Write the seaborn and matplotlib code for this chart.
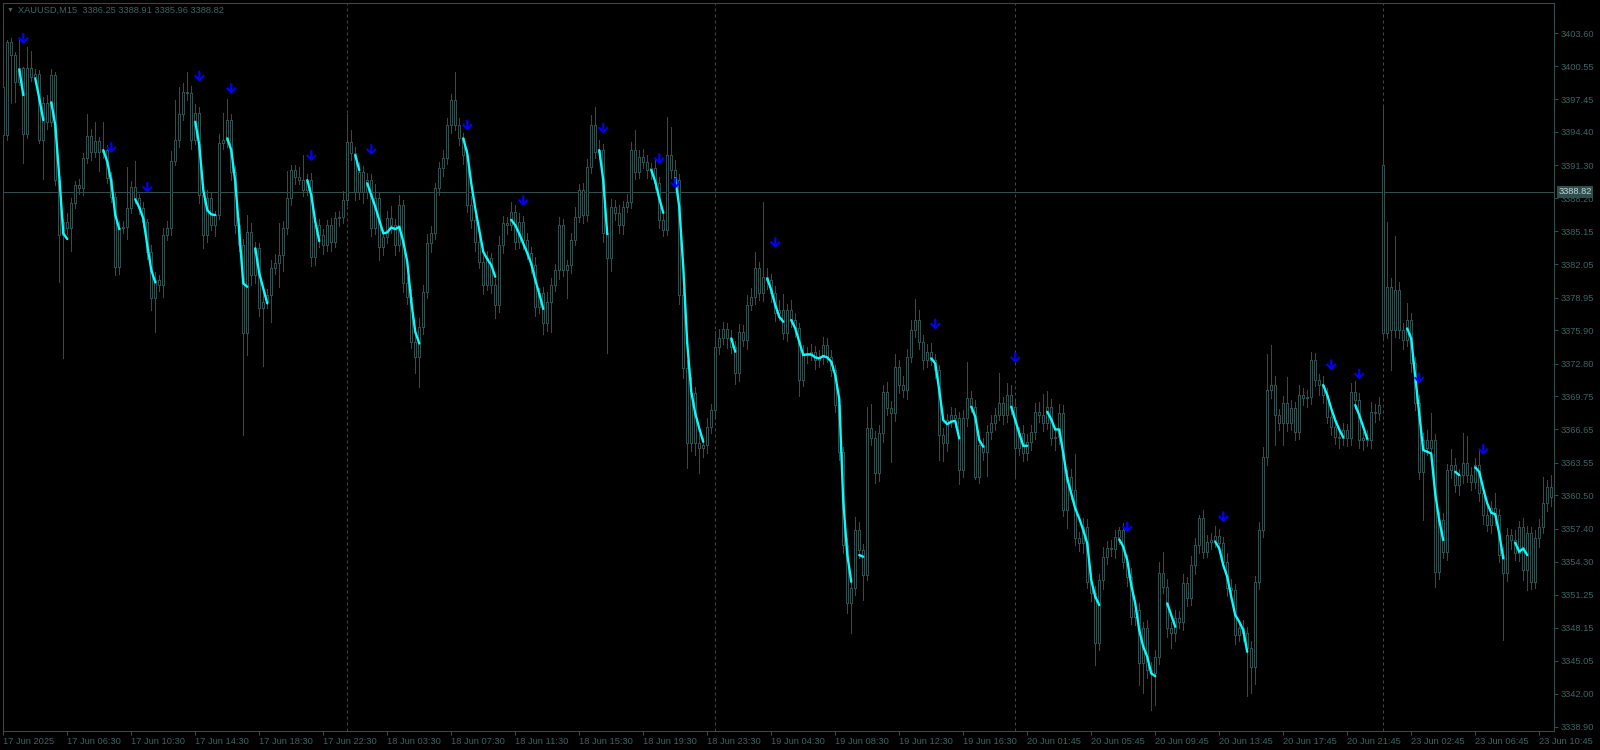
import numpy as np
import pandas as pd
import matplotlib
matplotlib.use("Agg")
import matplotlib.pyplot as plt
import matplotlib.transforms as mtransforms
from matplotlib.path import Path
import seaborn as sns

# --- Datos (XAUUSD M15, 17-23 Jun 2025) ---
symbol = "XAUUSD,M15"
last_ohlc = [3386.25, 3388.91, 3385.96, 3388.82]

close_prices = [
    3394.11, 3402.82, 3401.57, 3399.02, 3400.33, 3394.17, 3400.33, 3399.55, 3399.77, 3393.64, 3397.06, 3395.35, 3399.71, 3389.91, 3384.78, 3386.02,
    3385.46, 3387.73, 3389.44, 3389.13, 3391.93, 3394.02, 3392.55, 3393.55, 3392.55, 3392.71, 3390.07, 3388.36, 3381.83, 3385.40, 3385.56, 3387.33,
    3389.23, 3388.20, 3387.33, 3386.02, 3383.23, 3378.87, 3380.58, 3380.12, 3384.78, 3385.46, 3391.68, 3393.64, 3396.04, 3398.15, 3398.00, 3393.64,
    3396.13, 3388.51, 3384.78, 3388.20, 3385.71, 3386.65, 3393.33, 3393.64, 3395.51, 3390.69, 3385.71, 3383.85, 3375.61, 3385.09, 3381.05, 3383.54,
    3377.94, 3378.56, 3379.18, 3381.67, 3382.14, 3382.91, 3385.40, 3388.20, 3390.84, 3390.22, 3389.91, 3388.98, 3389.91, 3382.76, 3385.71, 3384.78,
    3383.85, 3385.71, 3384.16, 3386.34, 3386.49, 3388.05, 3393.49, 3392.40, 3388.82, 3390.69, 3388.82, 3389.91, 3385.40, 3388.20, 3383.69, 3384.63,
    3386.34, 3385.71, 3383.85, 3387.58, 3380.27, 3379.03, 3374.83, 3373.43, 3376.23, 3379.49, 3384.00, 3384.94, 3389.13, 3391.00, 3391.93, 3395.04,
    3397.37, 3395.04, 3393.80, 3392.24, 3387.58, 3386.18, 3384.16, 3382.29, 3380.12, 3382.60, 3380.12, 3378.25, 3383.85, 3385.87, 3385.71, 3386.96,
    3384.16, 3386.02, 3384.31, 3383.07, 3381.98, 3378.10, 3379.34, 3376.54, 3378.56, 3380.12, 3381.52, 3385.71, 3381.52, 3381.98, 3384.31, 3386.49,
    3388.98, 3386.65, 3391.09, 3395.04, 3392.55, 3392.71, 3384.94, 3382.60, 3387.42, 3386.80, 3385.71, 3387.42, 3387.89, 3392.71, 3390.69, 3392.09,
    3391.62, 3390.84, 3391.00, 3389.60, 3386.18, 3385.25, 3392.24, 3390.84, 3389.91, 3379.18, 3372.34, 3365.35, 3370.01, 3365.35, 3364.88, 3365.19,
    3366.90, 3368.46, 3374.36, 3375.14, 3375.98, 3375.14, 3374.36, 3371.88, 3375.76, 3374.99, 3378.25, 3379.03, 3381.67, 3379.34, 3380.89, 3380.58,
    3379.34, 3377.47, 3377.79, 3375.61, 3377.79, 3376.85, 3376.08, 3371.26, 3373.74, 3373.59, 3373.90, 3373.12, 3373.43, 3374.52, 3373.43, 3372.19,
    3368.92, 3364.57, 3355.86, 3350.42, 3351.82, 3357.26, 3355.40, 3353.07, 3366.75, 3365.81, 3362.55, 3366.28, 3370.17, 3368.61, 3368.15, 3372.50,
    3370.79, 3370.32, 3373.43, 3375.92, 3376.85, 3374.83, 3373.12, 3373.90, 3373.12, 3372.19, 3366.13, 3365.35, 3367.52, 3367.99, 3367.68, 3362.86,
    3367.68, 3369.55, 3368.77, 3362.24, 3365.19, 3364.57, 3366.44, 3367.21, 3367.99, 3369.08, 3367.99, 3369.86, 3368.77, 3364.88, 3366.28, 3364.42,
    3365.50, 3366.44, 3368.30, 3367.99, 3367.21, 3368.77, 3365.81, 3365.97, 3368.15, 3359.13, 3362.24, 3361.00, 3356.49, 3356.02, 3357.57, 3352.44,
    3351.36, 3346.69, 3352.60, 3354.78, 3355.55, 3355.46, 3356.64, 3357.26, 3354.31, 3352.91, 3349.18, 3349.80, 3344.83, 3348.09, 3344.21, 3343.89,
    3345.45, 3353.22, 3351.98, 3348.09, 3347.62, 3349.02, 3348.71, 3352.29, 3350.89, 3354.00, 3355.86, 3358.35, 3355.24, 3356.18, 3356.33, 3356.70,
    3356.02, 3354.31, 3351.82, 3351.67, 3347.47, 3348.09, 3347.62, 3346.23, 3344.52, 3352.44, 3357.26, 3364.10, 3370.32, 3370.79, 3367.99, 3367.21,
    3369.08, 3367.21, 3368.61, 3366.44, 3369.86, 3369.54, 3369.70, 3373.12, 3371.26, 3370.79, 3369.86, 3367.83, 3366.90, 3365.97, 3365.81, 3366.59,
    3365.81, 3370.17, 3369.39, 3365.66, 3365.81, 3365.66, 3368.30, 3368.15, 3368.92, 3375.61, 3379.96, 3375.92, 3379.65, 3375.92, 3374.99, 3376.85,
    3372.81, 3369.08, 3362.70, 3365.66, 3364.88, 3365.66, 3353.38, 3358.19, 3355.24, 3362.86, 3363.33, 3361.46, 3362.39, 3363.48, 3362.39, 3361.77,
    3363.33, 3360.68, 3358.66, 3357.73, 3359.28, 3358.66, 3354.93, 3353.22, 3356.80, 3356.33, 3355.09, 3357.57, 3353.53, 3356.95, 3352.45, 3356.49,
    3357.57, 3359.75, 3361.31, 3360.37,
]

# aperturas que no coinciden con el cierre anterior (primera vela y hueco del lunes)
gap_opens = {0: 3398.60, 345: 3391.31}

# mechas por encima / por debajo del cuerpo
wick_up = [
    1.4, 0.2, 0.3, 0.3, 2.7, 0.1, 2.0, 1.6, 0.5, 0.4, 0.6, 0.8, 0.6, 0.3, 0.5, 0.3,
    0.8, 0.5, 0.4, 0.6, 0.5, 2.1, 0.7, 1.8, 0.4, 2.6, 0.5, 0.6, 0.4, 0.7, 0.5, 3.8,
    0.6, 2.5, 0.4, 0.5, 0.3, 0.6, 0.8, 0.5, 0.7, 0.6, 0.9, 3.7, 2.6, 0.8, 1.8, 0.7,
    0.9, 0.6, 0.5, 0.8, 0.6, 0.4, 0.9, 2.5, 2.0, 0.6, 0.5, 0.7, 0.6, 1.6, 0.8, 0.6,
    0.5, 1.2, 0.6, 0.8, 0.9, 3.0, 0.7, 2.6, 0.5, 0.5, 0.9, 2.3, 0.6, 0.7, 0.8, 0.6,
    0.6, 0.5, 0.7, 0.6, 0.5, 0.8, 2.6, 1.1, 0.6, 0.9, 0.5, 0.7, 0.6, 1.3, 0.5, 0.6,
    0.7, 1.2, 0.6, 0.9, 0.5, 0.6, 0.7, 0.5, 0.8, 0.6, 0.9, 0.7, 0.5, 0.6, 0.8, 0.7,
    0.6, 2.6, 0.7, 0.5, 0.6, 0.8, 0.5, 0.9, 0.6, 0.7, 0.5, 0.6, 0.8, 0.7, 0.6, 0.9,
    0.6, 0.8, 0.5, 0.7, 0.6, 0.8, 0.5, 0.6, 0.9, 0.7, 0.6, 0.8, 0.6, 0.5, 0.7, 0.9,
    0.6, 0.7, 0.8, 0.9, 1.7, 0.9, 0.6, 0.5, 0.7, 0.6, 0.8, 0.5, 0.7, 0.8, 1.9, 0.6,
    0.7, 0.6, 0.5, 0.8, 0.6, 0.7, 3.6, 2.6, 0.9, 0.6, 0.7, 0.8, 1.5, 0.6, 0.9, 0.7,
    0.8, 0.6, 1.5, 0.9, 0.7, 0.6, 0.8, 0.5, 0.7, 0.6, 0.9, 0.8, 1.5, 0.6, 7.0, 0.8,
    0.6, 0.7, 0.9, 1.5, 0.6, 0.9, 0.7, 0.5, 0.8, 0.6, 0.7, 0.5, 0.6, 0.8, 0.7, 0.6,
    0.5, 0.6, 0.4, 0.7, 0.9, 1.2, 0.8, 0.6, 2.0, 2.3, 0.7, 0.8, 0.6, 0.9, 0.7, 1.2,
    0.6, 0.8, 0.7, 0.9, 2.0, 0.9, 0.6, 0.7, 0.8, 0.6, 0.5, 0.7, 0.6, 0.8, 0.7, 0.6,
    0.8, 3.4, 0.7, 0.6, 0.9, 0.7, 0.6, 0.8, 0.7, 2.8, 0.6, 1.1, 0.9, 0.7, 0.6, 0.8,
    0.7, 0.6, 0.8, 0.9, 2.0, 1.5, 0.7, 0.6, 0.9, 0.8, 0.6, 0.7, 3.4, 0.6, 0.8, 0.7,
    0.8, 0.7, 0.6, 0.9, 0.7, 0.8, 0.6, 0.3, 0.7, 0.6, 0.8, 0.9, 0.7, 0.6, 0.8, 0.7,
    0.6, 1.1, 2.0, 0.7, 0.6, 0.8, 0.7, 0.9, 0.6, 0.8, 0.7, 0.3, 0.8, 0.6, 0.7, 0.9,
    0.7, 0.6, 0.8, 0.9, 0.6, 0.7, 0.8, 0.6, 0.7, 0.5, 0.8, 0.9, 3.4, 3.7, 0.8, 0.6,
    0.7, 2.5, 0.8, 0.6, 0.9, 0.7, 0.6, 0.8, 0.7, 0.6, 0.8, 0.7, 0.6, 0.5, 0.8, 0.7,
    0.6, 0.8, 1.0, 0.7, 0.6, 0.8, 0.9, 0.7, 0.8, 5.4, 6.0, 0.8, 5.0, 0.8, 0.7, 1.6,
    0.7, 0.6, 0.8, 0.7, 0.9, 2.5, 0.6, 0.8, 0.7, 0.6, 1.5, 0.7, 0.6, 2.8, 2.6, 0.8,
    0.7, 1.4, 0.6, 0.8, 0.7, 1.4, 0.6, 0.8, 0.7, 0.6, 0.9, 0.5, 0.8, 0.7, 0.6, 0.8,
    0.7, 2.5, 0.6, 1.1,
]
wick_down = [
    0.5, 0.5, 4.5, 1.8, 0.2, 2.7, 0.3, 0.4, 0.6, 0.3, 3.6, 0.7, 0.4, 0.5, 4.4, 11.5,
    0.6, 2.2, 0.4, 0.5, 0.6, 0.4, 0.8, 0.5, 1.8, 0.6, 0.4, 0.5, 0.8, 0.7, 0.4, 1.1,
    0.5, 0.4, 0.6, 0.5, 0.7, 1.1, 3.1, 0.6, 1.1, 0.5, 0.7, 0.4, 0.6, 0.5, 0.6, 0.8,
    0.4, 0.7, 1.2, 0.6, 0.5, 1.0, 0.4, 0.5, 0.6, 0.8, 0.7, 0.6, 9.5, 2.0, 0.9, 0.7,
    0.7, 5.4, 0.6, 2.5, 0.5, 2.2, 1.5, 0.5, 0.6, 0.7, 0.4, 0.6, 0.5, 0.9, 0.8, 1.1,
    0.8, 0.6, 0.9, 0.5, 0.7, 0.6, 0.5, 0.6, 0.8, 0.7, 1.0, 0.6, 0.7, 0.5, 1.2, 0.8,
    0.6, 0.7, 0.9, 0.6, 0.8, 0.7, 0.6, 1.5, 2.8, 0.7, 0.6, 0.8, 0.5, 0.6, 0.7, 0.5,
    0.7, 0.5, 0.6, 0.8, 0.6, 0.7, 0.9, 0.6, 0.8, 0.5, 0.7, 1.2, 0.6, 0.7, 0.8, 0.5,
    0.7, 0.6, 0.8, 0.5, 0.7, 0.9, 0.6, 1.0, 0.7, 2.8, 0.6, 0.8, 0.6, 2.6, 0.7, 0.5,
    0.5, 0.7, 0.6, 0.5, 0.6, 0.7, 0.8, 8.8, 1.2, 0.6, 0.7, 0.8, 0.5, 0.6, 0.7, 0.6,
    0.6, 0.7, 0.8, 0.5, 0.7, 0.6, 0.5, 0.7, 0.6, 0.8, 0.9, 2.3, 0.7, 1.1, 2.3, 0.8,
    0.7, 0.6, 0.8, 0.7, 0.5, 0.9, 0.6, 1.0, 0.7, 0.6, 0.8, 0.5, 0.7, 0.6, 0.7, 0.8,
    0.8, 0.7, 0.6, 0.5, 0.7, 0.6, 0.8, 1.5, 0.6, 0.7, 0.5, 0.8, 0.6, 0.7, 0.5, 0.6,
    0.6, 0.8, 0.7, 0.9, 2.8, 0.6, 0.7, 2.3, 0.5, 0.6, 0.9, 0.7, 0.8, 0.6, 4.5, 0.7,
    0.7, 0.6, 0.8, 0.5, 0.6, 0.7, 0.8, 0.6, 0.5, 0.7, 2.3, 1.6, 0.7, 0.6, 0.8, 1.3,
    0.6, 0.7, 0.5, 0.2, 0.6, 0.8, 2.3, 0.7, 0.6, 0.5, 0.8, 0.6, 0.7, 2.8, 0.6, 0.7,
    0.6, 0.8, 0.7, 0.6, 0.7, 0.5, 0.6, 1.1, 0.7, 0.6, 1.7, 0.8, 0.6, 0.7, 0.9, 0.6,
    0.7, 2.0, 0.6, 0.8, 0.7, 0.6, 0.8, 0.7, 0.6, 0.9, 0.7, 0.8, 2.0, 2.8, 0.7, 3.4,
    2.9, 0.7, 0.6, 0.8, 1.4, 0.7, 0.6, 0.8, 0.7, 0.6, 0.8, 0.7, 0.6, 0.5, 0.7, 0.6,
    0.8, 0.6, 0.7, 0.9, 0.8, 0.6, 0.7, 4.4, 2.5, 1.6, 0.7, 0.6, 0.8, 0.7, 2.8, 0.6,
    2.0, 0.7, 0.6, 0.8, 0.7, 0.6, 0.8, 0.7, 0.6, 0.9, 0.7, 0.6, 0.8, 0.7, 0.9, 0.6,
    0.7, 0.6, 0.8, 0.7, 0.9, 0.6, 0.7, 0.8, 0.6, 0.5, 0.4, 3.7, 0.6, 0.7, 0.8, 0.6,
    0.8, 0.6, 0.7, 4.5, 0.6, 0.8, 1.4, 0.7, 0.6, 0.8, 0.7, 0.6, 0.9, 0.7, 0.6, 0.8,
    0.6, 0.7, 0.8, 0.6, 0.7, 0.9, 0.6, 6.2, 0.7, 0.8, 0.6, 0.7, 0.9, 1.9, 0.7, 0.6,
    0.8, 0.6, 0.7, 0.9,
]

# --- Indicador: tramos de la línea cian (barra inicial + valores) ---
signal_start = [4, 8, 12, 25, 33, 48, 56, 63, 76, 88, 91, 115, 127, 149, 162, 168, 182,
                191, 197, 214, 232, 242, 252, 261, 279, 291, 303, 330, 338, 351, 363, 368, 378]
signal_values = [
    [3400.23, 3397.84],
    [3399.39, 3397.53, 3395.51],
    [3397.16, 3395.04, 3390.22, 3384.94, 3384.41],
    [3392.71, 3391.62, 3389.76, 3386.65, 3385.34],
    [3388.11, 3387.36, 3386.34, 3383.85, 3381.52, 3380.37],
    [3395.35, 3393.18, 3388.98, 3387.11, 3386.71, 3386.65],
    [3393.80, 3392.71, 3389.76, 3385.09, 3380.27, 3379.96],
    [3383.54, 3381.20, 3379.81, 3378.41],
    [3389.91, 3388.51, 3386.02, 3384.22],
    [3392.24, 3390.84],
    [3389.60, 3388.51, 3387.42, 3386.18, 3384.94, 3385.03, 3385.50, 3385.34, 3385.56, 3384.16,
     3382.29, 3378.56, 3375.76, 3374.67],
    [3393.80, 3392.40, 3389.60, 3387.27, 3385.25, 3383.23, 3382.54, 3381.98, 3380.89],
    [3386.20, 3385.70, 3384.90, 3384.00, 3383.10, 3382.10, 3380.60, 3379.30, 3377.90],
    [3392.71, 3389.91, 3384.87],
    [3390.84, 3389.76, 3388.20, 3386.86],
    [3390.07, 3387.42, 3381.83, 3374.68, 3370.17, 3368.15, 3366.75, 3365.50],
    [3375.14, 3373.90],
    [3380.74, 3379.65, 3378.25, 3377.16, 3376.70],
    [3376.85, 3376.08, 3374.83, 3373.59, 3373.65, 3373.65, 3373.37, 3373.28, 3373.50, 3373.37,
     3372.97, 3371.72, 3369.50, 3360.00, 3355.00, 3352.44],
    [3354.93, 3354.78],
    [3373.28, 3372.81, 3370.32, 3367.52, 3367.15, 3367.37, 3367.46, 3365.81],
    [3368.77, 3367.84, 3365.66, 3365.04],
    [3368.77, 3367.52, 3366.28, 3365.13, 3365.13],
    [3368.30, 3367.59, 3366.65, 3366.65, 3364.42, 3362.08, 3360.68, 3359.28, 3358.35, 3357.26,
     3356.02, 3352.60, 3351.05, 3350.27],
    [3356.39, 3355.71, 3354.47, 3352.13, 3350.42, 3347.93, 3346.38, 3345.45, 3343.89, 3343.64],
    [3350.42, 3349.33, 3348.25],
    [3356.18, 3355.55, 3354.00, 3352.91, 3351.05, 3349.33, 3348.71, 3347.93, 3345.91],
    [3370.79, 3369.86, 3368.61, 3367.52, 3366.65, 3365.91],
    [3368.92, 3367.99, 3366.90, 3365.78],
    [3376.07, 3375.14, 3371.57, 3368.15, 3364.73, 3364.57, 3364.41, 3360.68, 3358.19, 3356.33],
    [3362.70, 3362.39],
    [3363.11, 3362.70, 3361.15, 3359.75, 3358.88, 3358.75, 3356.95, 3354.62],
    [3356.08, 3355.24, 3355.55, 3354.93],
]

# flechas de venta (barra, precio)
arrow_bars = [5, 27, 36, 49, 57, 77, 92, 116, 130, 150, 164, 168, 193, 233, 253, 281, 305, 332, 339, 354, 370]
arrow_prices = [3403.12, 3392.94, 3389.23, 3399.60, 3398.46, 3392.18, 3392.75, 3395.04, 3388.00, 3394.75,
                3391.90, 3389.61, 3384.09, 3376.48, 3373.34, 3357.55, 3358.50, 3372.68, 3371.82, 3371.44, 3364.78]

# ejes
price_ticks = [3403.60, 3400.55, 3397.45, 3394.40, 3391.30, 3388.20, 3385.15, 3382.05, 3378.95, 3375.90, 3372.80,
               3369.75, 3366.65, 3363.55, 3360.50, 3357.40, 3354.30, 3351.25, 3348.15, 3345.05, 3342.00, 3338.90]
time_labels = ["17 Jun 2025", "17 Jun 06:30", "17 Jun 10:30", "17 Jun 14:30", "17 Jun 18:30", "17 Jun 22:30",
               "18 Jun 03:30", "18 Jun 07:30", "18 Jun 11:30", "18 Jun 15:30", "18 Jun 19:30", "18 Jun 23:30",
               "19 Jun 04:30", "19 Jun 08:30", "19 Jun 12:30", "19 Jun 16:30", "20 Jun 01:45", "20 Jun 05:45",
               "20 Jun 09:45", "20 Jun 13:45", "20 Jun 17:45", "20 Jun 21:45", "23 Jun 02:45", "23 Jun 06:45",
               "23 Jun 10:45"]
bars_per_label = 16
day_breaks = [86, 178, 253, 345]

# --- Preparación ---
n = min(len(close_prices), len(wick_up), len(wick_down))
closes = np.array(close_prices[:n])
opens = np.r_[np.nan, closes[:-1]]
for k, v in gap_opens.items():
    opens[k] = v
body_top = np.maximum(opens, closes)
body_bot = np.minimum(opens, closes)
highs = body_top + np.array(wick_up[:n])
lows = body_bot - np.array(wick_down[:n])
bars = np.arange(n)

rows = []
for seg, (start, vals) in enumerate(zip(signal_start, signal_values)):
    for j, v in enumerate(vals):
        rows.append({"bar": start + j, "price": v, "seg": seg})
signal_df = pd.DataFrame(rows)

# --- Estilo ---
FG = "#2f4f4f"
TXT = "#3f6464"
sns.set_theme(style="dark", rc={"axes.facecolor": "black", "figure.facecolor": "black",
                                "axes.grid": False})
plt.rcParams["font.family"] = ["Liberation Sans", "DejaVu Sans"]
FS = 6.7

fig = plt.figure(figsize=(16, 7.5), dpi=100)
ax = fig.add_axes([3 / 1600, 19 / 750, 1551 / 1600, 728 / 750])
ax.set_facecolor("black")

# separadores de día y línea bid
for b in day_breaks:
    ax.axvline(b, color=FG, lw=0.72, ls=(0, (3, 3)), zorder=1)
ax.axhline(last_ohlc[3], color=FG, lw=0.72, zorder=1, antialiased=False)

# velas (huecas)
ax.vlines(bars, lows, highs, colors=FG, lw=0.72, zorder=2, antialiased=False)
ax.bar(bars, np.maximum(body_top - body_bot, 0.03), bottom=body_bot, width=0.5,
       facecolor="black", edgecolor=FG, linewidth=0.72, zorder=3, antialiased=False)

# línea de señal
sns.lineplot(data=signal_df, x="bar", y="price", units="seg", estimator=None, sort=False,
             color="#00ffff", linewidth=1.7, legend=False, ax=ax, zorder=4)

# flechas
arrow_path = Path([(-0.1, 0.5), (0.1, 0.5), (0.1, -0.12), (0.36, 0.14), (0.5, 0.02), (0.0, -0.5),
                   (-0.5, 0.02), (-0.36, 0.14), (-0.1, -0.12), (-0.1, 0.5)],
                  [Path.MOVETO] + [Path.LINETO] * 8 + [Path.CLOSEPOLY])
sns.scatterplot(x=arrow_bars, y=arrow_prices, marker=arrow_path, s=60, color="#0000ff",
                edgecolor="none", linewidth=0, legend=False, ax=ax, zorder=5)

# --- Ejes ---
ax.set_xlim(-0.07, 387.7)
ax.set_ylim(3338.52, 3406.43)
ax.set_xlabel("")
ax.set_ylabel("")
for sp in ax.spines.values():
    sp.set_color(FG)
    sp.set_linewidth(0.72)
    sp.set_visible(True)

ax.yaxis.tick_right()
ax.set_yticks(price_ticks)
ax.set_yticklabels([f"{p:.2f}" for p in price_ticks])
ax.tick_params(axis="y", direction="out", length=3, width=0.72, color=FG, labelcolor=TXT,
               labelsize=FS, pad=2, right=True, left=False)

ax.set_xticks([i * bars_per_label for i in range(len(time_labels))])
ax.set_xticklabels(time_labels, ha="left")
ax.tick_params(axis="x", direction="out", length=3, width=0.72, color=FG, labelcolor=TXT,
               labelsize=FS, pad=1.5, bottom=True)

# etiqueta del precio actual
trans = mtransforms.blended_transform_factory(ax.transAxes, ax.transData)
ax.text(1.003, last_ohlc[3], f"{last_ohlc[3]:.2f}", transform=trans, ha="left", va="center",
        fontsize=FS, color="#c8d4d4",
        bbox=dict(boxstyle="square,pad=0.15", facecolor=FG, edgecolor="none"))

# cabecera
fig.text(7 / 1600, 1 - 10 / 750, "\u25bc", fontsize=5, color=TXT, va="center", ha="left")
fig.text(18 / 1600, 1 - 10 / 750, symbol + "  " + " ".join(f"{v:.2f}" for v in last_ohlc),
         fontsize=FS, color=TXT, va="center", ha="left")

fig.savefig("out.png", dpi=100, facecolor="black")
